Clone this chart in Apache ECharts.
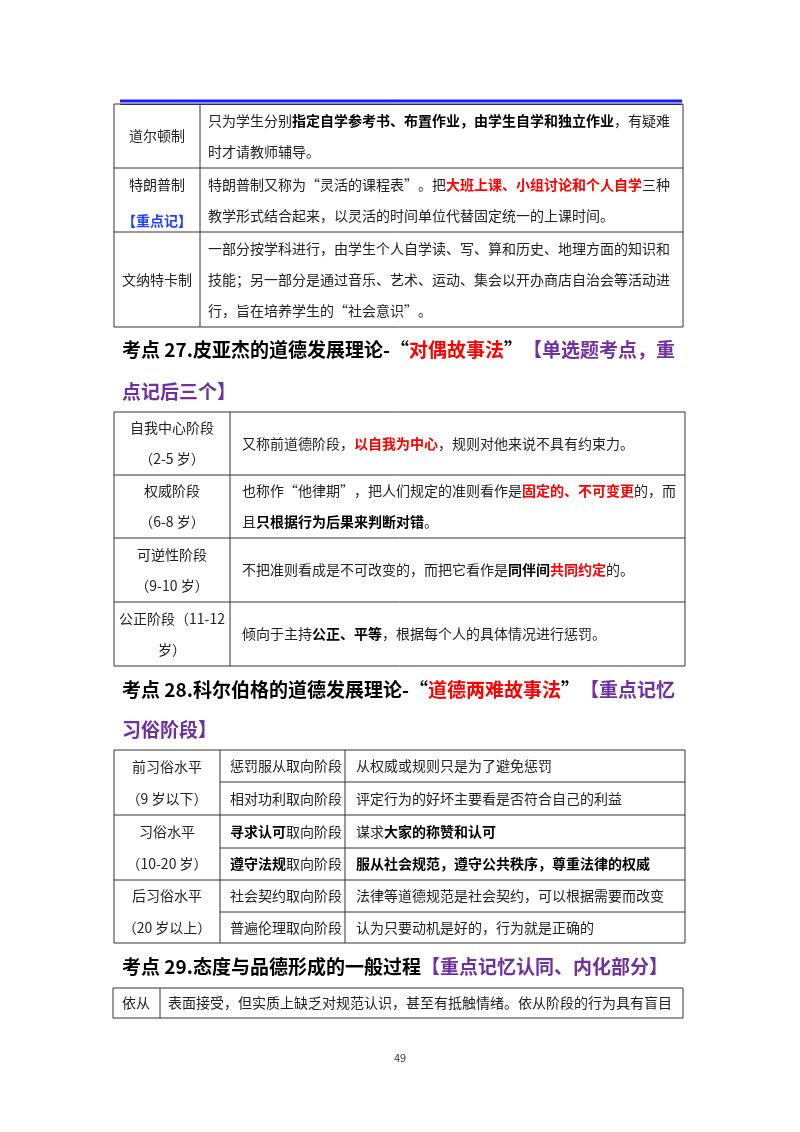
<!DOCTYPE html>
<html><head><meta charset="utf-8">
<script src="https://cdn.jsdelivr.net/npm/echarts@6/dist/echarts.min.js"></script>
<style>html,body{margin:0;background:#fff}#page{width:800px;height:1132px}</style>
</head><body><div id="page"></div>
<script>
// table 1: teaching systems
var t1Names = ['道尔顿制', '特朗普制\n{bl|【重点记】}', '文纳特卡制'];
var t1Texts = [
    '只为学生分别{b|指定自学参考书、布置作业，由学生自学和独立作业}，有疑难\n时才请教师辅导。',
    '特朗普制又称为“灵活的课程表”。把{r|大班上课、小组讨论和个人自学}三种\n教学形式结合起来，以灵活的时间单位代替固定统一的上课时间。',
    '一部分按学科进行，由学生个人自学读、写、算和历史、地理方面的知识和\n技能；另一部分是通过音乐、艺术、运动、集会以开办商店自治会等活动进\n行，旨在培养学生的“社会意识”。'
];
// table 2: Piaget
var t2Names = ['自我中心阶段\n（2-5 岁）', '权威阶段\n（6-8 岁）', '可逆性阶段\n（9-10 岁）', '公正阶段（11-12\n岁）'];
var t2Texts = [
    '又称前道德阶段，{r|以自我为中心}，规则对他来说不具有约束力。',
    '也称作“他律期”，把人们规定的准则看作是{r|固定的、不可变更}的，而\n且{b|只根据行为后果来判断对错}。',
    '不把准则看成是不可改变的，而把它看作是{b|同伴间}{r|共同约定}的。',
    '倾向于主持{b|公正、平等}，根据每个人的具体情况进行惩罚。'
];
// table 3: Kohlberg
var t3Levels = ['前习俗水平\n\n（9 岁以下）', '习俗水平\n\n（10-20 岁）', '后习俗水平\n\n（20 岁以上）'];
var t3Stages = ['惩罚服从取向阶段', '相对功利取向阶段', '{b|寻求认可}取向阶段', '{b|遵守法规}取向阶段', '社会契约取向阶段', '普遍伦理取向阶段'];
var t3Texts = ['从权威或规则只是为了避免惩罚', '评定行为的好坏主要看是否符合自己的利益', '谋求{b|大家的称赞和认可}',
    '{b|服从社会规范，遵守公共秩序，尊重法律的权威}', '法律等道德规范是社会契约，可以根据需要而改变', '认为只要动机是好的，行为就是正确的'];
// table 4
var t4Names = ['依从'];
var t4Texts = ['表面接受，但实质上缺乏对规范认识，甚至有抵触情绪。依从阶段的行为具有盲目'];
var headings = [
    '考点 27.皮亚杰的道德发展理论-“{r|对偶故事法}”{p|【单选题考点，重}',
    '{p|点记后三个】}',
    '考点 28.科尔伯格的道德发展理论-“{r|道德两难故事法}”{p|【重点记忆}',
    '{p|习俗阶段】}',
    '考点 29.态度与品德形成的一般过程{p|【重点记忆认同、内化部分】}'
];
var pageNo = '49';

var FONT = '"Noto Sans CJK SC", sans-serif';
var rich14 = {
    b: {fontWeight: 'bold', fontSize: 14, fontFamily: FONT, fill: '#000', lineHeight: 31},
    r: {fontWeight: 'bold', fontSize: 14, fontFamily: FONT, fill: '#ff0000', lineHeight: 31},
    bl: {fontWeight: 'bold', fontSize: 14, fontFamily: FONT, fill: '#1f3fff', lineHeight: 31}
};
var rich18 = {
    r: {fontWeight: 'bold', fontSize: 19, fontFamily: FONT, fill: '#ff0000'},
    p: {fontWeight: 'bold', fontSize: 19, fontFamily: FONT, fill: '#7030a0'}
};
var els = [];
function line(x1, y1, x2, y2, w, c) {
    els.push({type: 'line', shape: {x1: x1, y1: y1, x2: x2, y2: y2}, style: {stroke: c || '#333', lineWidth: w || 1}});
}
function txt(s, x, y, align, lh) {
    els.push({type: 'text', x: x, y: y, style: {text: s, x: 0, y: 0, fontSize: 14, fontFamily: FONT, fill: '#222',
        align: align || 'left', verticalAlign: 'middle', lineHeight: lh || 31, rich: rich14}});
}
function grid(xs, ys) {
    ys.forEach(function(y) { line(xs[0], y, xs[xs.length - 1], y); });
}
function vlines(xs, y1, y2) {
    xs.forEach(function(x) { line(x, y1, x, y2); });
}

// header rule
line(120, 101, 682, 101, 3, '#1a1aff');
line(120, 104.5, 682, 104.5, 1, '#1a1aff');

// table 1
var r1 = [104, 168, 232, 327];
grid([114, 683], r1); vlines([114, 200, 683], 104, 327);
for (var i = 0; i < 3; i++) {
    var cy = (r1[i] + r1[i + 1]) / 2;
    txt(t1Names[i], 157, cy, 'center', i == 1 ? 42 : 31);
    txt(t1Texts[i], 208, cy, 'left');
}

function head(s, y) {
    els.push({type: 'text', x: 122, y: y, style: {text: s, fontSize: 19, fontWeight: 'bold', fontFamily: FONT,
        fill: '#000', verticalAlign: 'middle', rich: rich18}});
}
head(headings[0], 350); head(headings[1], 392);

// table 2
var r2 = [412, 475, 538, 602, 666];
grid([114, 685], r2); vlines([114, 230, 685], 412, 666);
for (i = 0; i < 4; i++) {
    cy = (r2[i] + r2[i + 1]) / 2;
    txt(t2Names[i], 172, cy, 'center');
    txt(t2Texts[i], 242, cy, 'left');
}

head(headings[2], 690); head(headings[3], 730);

// table 3
var r3 = [750, 782, 815, 848, 880, 912, 943];
grid([220, 685], r3);
[750, 815, 880, 943].forEach(function(y) { line(114, y, 220, y); });
vlines([114, 220, 345, 685], 750, 943);
for (i = 0; i < 3; i++) {
    txt(t3Levels[i], 167, (r3[2 * i] + r3[2 * i + 2]) / 2, 'center', 16);
}
for (i = 0; i < 6; i++) {
    cy = (r3[i] + r3[i + 1]) / 2;
    txt(t3Stages[i], 230, cy, 'left');
    txt(t3Texts[i], 356, cy, 'left');
}

head(headings[4], 967);

// table 4
grid([113, 683], [988, 1018]); vlines([113, 160, 683], 988, 1018);
txt(t4Names[0], 136, 1003, 'center');
txt(t4Texts[0], 168, 1003, 'left');

els.push({type: 'text', x: 400, y: 1058, style: {text: pageNo, fontSize: 11, fontFamily: FONT, fill: '#333', align: 'center', verticalAlign: 'middle'}});

var chart = echarts.init(document.getElementById('page'));
chart.setOption({backgroundColor: '#fff', animation: false, graphic: {elements: els}});
</script>
</body></html>
